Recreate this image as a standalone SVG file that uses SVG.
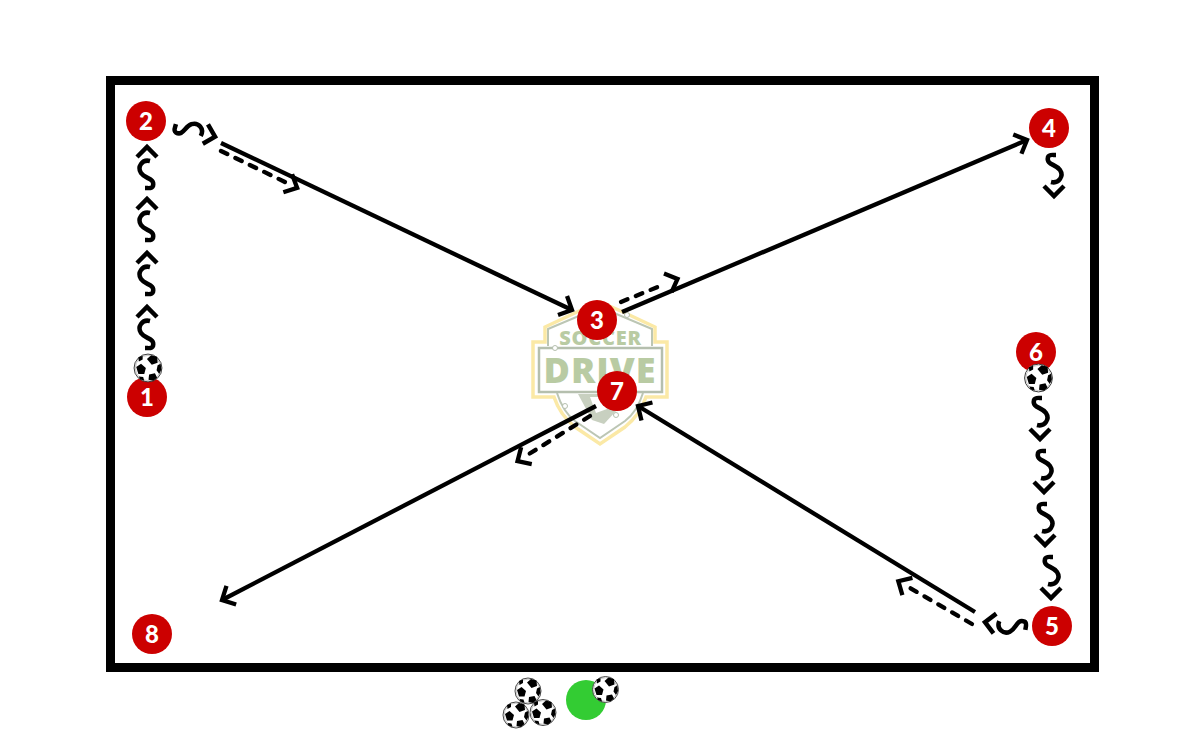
<svg xmlns="http://www.w3.org/2000/svg" width="1200" height="750" viewBox="0 0 1200 750">
<style>
.l{fill:none;stroke:#000;stroke-width:4.300}
.d{fill:none;stroke:#000;stroke-width:4.300;stroke-dasharray:7 9;stroke-linecap:round}
.dr{fill:none;stroke:#000;stroke-width:4.500}
.n{fill:#cc0000}
.t{fill:#fff;font-family:"Lato","Liberation Sans",sans-serif;font-weight:900;font-size:24px;text-anchor:middle}
.lg{fill:#b9cba3;font-family:"Open Sans","Liberation Sans",sans-serif;font-weight:800;text-anchor:middle}
.c{fill:#fff;stroke:#b5bfae;stroke-width:1}
</style>
<defs>
<marker id="h" markerUnits="userSpaceOnUse" markerWidth="32" markerHeight="32" refX="16" refY="16" orient="auto" overflow="visible"><path d="M5.500,5.500L16,16L5.500,26.500" fill="none" stroke="#000" stroke-width="4.300"/></marker>
<marker id="hd" markerUnits="userSpaceOnUse" markerWidth="40" markerHeight="32" refX="2" refY="16" orient="auto" overflow="visible"><path d="M5,6L15.500,16L5,26" fill="none" stroke="#000" stroke-width="4.300"/></marker>
<g id="sq"><path class="dr" d="M-10,11L0,1L10,11"/><path class="dr" d="M3,15C-5,13 -10,21 -6,27C-2,33 8,32 6,40C5,43 2,42 -2,42"/></g>
<g id="ball">
<circle r="13" fill="#fff" stroke="#333" stroke-width="0.900"/>
<circle r="11.800" fill="none" stroke="#999" stroke-width="0.500"/>
<path d="M-1,-8.500L3,-12L8.500,-10.500L9,-5L3.500,-3Z M-11,-1L-6.500,-4L-2,0L-3.500,5.500L-9,5.500Z M1,6L6.500,5L8.500,9L5,12L0.500,11Z M9,-2.500L11.800,-4L12.500,1.500L10.500,5.500L8,2Z M-9,-10L-5,-11.500L-5,-8L-8.500,-6Z M-8.500,8L-4.500,8.500L-3.500,12L-7.500,10.500Z" fill="#000"/>
</g>
</defs>
<rect width="1200" height="750" fill="#fff"/>
<g id="logo">
<path d="M545,342V327L577,312L600,302L623,312L655,327V342H667V397H646Q640,415 625,427L600,444L575,427Q560,415 554,397H533V342Z" fill="#fff" stroke="#fbe9a6" stroke-width="3.500"/>
<path d="M548,346V329L600,307L652,329V346M557,393Q563,412 575,421L600,438L625,421Q637,412 643,393" fill="none" stroke="#bcc6b4" stroke-width="2"/>
<rect x="539" y="348" width="123" height="44" fill="#fff" stroke="#b5bfae" stroke-width="2.500"/>
<path d="M578,394L612,394L617,410L604,424L592,420L585,407Z" fill="#c8d0c0"/>
<path d="M590,397L605,397L607,409L596,413Z" fill="#fff"/>
<text class="lg" x="600.500" y="345" font-size="20" letter-spacing="0.800">SOCCER</text>
<text class="lg" x="600" y="383" font-size="36" letter-spacing="1">DRIVE</text>
<circle class="c" cx="555" cy="348" r="2.500"/><circle class="c" cx="627" cy="315" r="2.500"/><circle class="c" cx="565" cy="406" r="2.500"/><circle class="c" cx="616" cy="415" r="2.500"/>
</g>
<rect id="field" x="110.500" y="80.500" width="984" height="587" fill="none" stroke="#000" stroke-width="9"/>
<g id="connectors">
<path class="l" marker-end="url(#h)" d="M221,143L572,310"/>
<path class="l" marker-end="url(#h)" d="M622,312L1027,140"/>
<path class="l" marker-end="url(#h)" d="M596,406L222,600"/>
<path class="l" marker-end="url(#h)" d="M975,612L638,406"/>
<path class="d" marker-end="url(#hd)" d="M221,151L285,182"/>
<path class="d" marker-end="url(#hd)" d="M621,302L665,284"/>
<path class="d" marker-end="url(#hd)" d="M590,416L529,454"/>
<path class="d" marker-end="url(#hd)" d="M972,624L910,588"/>
<use href="#sq" transform="translate(147,146)"/>
<use href="#sq" transform="translate(147,198)"/>
<use href="#sq" transform="translate(147,252)"/>
<use href="#sq" transform="translate(147,306)"/>
<use href="#sq" transform="translate(1040,440) rotate(180)"/>
<use href="#sq" transform="translate(1044,493) rotate(180)"/>
<use href="#sq" transform="translate(1045,546) rotate(180)"/>
<use href="#sq" transform="translate(1051,599) rotate(180)"/>
<use href="#sq" transform="translate(1054,197) rotate(180)"/>
<use href="#sq" transform="translate(216,137) rotate(105)"/>
<use href="#sq" transform="translate(984,622) rotate(-82)"/>
</g>
<g id="node1"><circle class="n" cx="147" cy="397" r="20"/><text class="t" x="147" y="405.500">1</text></g>
<g id="node2"><circle class="n" cx="146" cy="121" r="20"/><text class="t" x="146" y="129.500">2</text></g>
<g id="node3"><circle class="n" cx="597" cy="320" r="20"/><text class="t" x="597" y="328.500">3</text></g>
<g id="node4"><circle class="n" cx="1049" cy="128" r="20"/><text class="t" x="1049" y="136.500">4</text></g>
<g id="node5"><circle class="n" cx="1052" cy="626" r="20"/><text class="t" x="1052" y="634.500">5</text></g>
<g id="node6"><circle class="n" cx="1036" cy="352" r="20"/><text class="t" x="1036" y="360.500">6</text></g>
<g id="node7"><circle class="n" cx="617" cy="391" r="20"/><text class="t" x="617" y="399.500">7</text></g>
<g id="node8"><circle class="n" cx="152" cy="634" r="20"/><text class="t" x="152" y="642.500">8</text></g>
<g id="cone"><circle cx="586" cy="700" r="20" fill="#33cc33"/></g>
<g id="balls">
<use href="#ball" transform="translate(148,368) scale(1.070)"/>
<use href="#ball" transform="translate(1038.500,378) scale(1.070)"/>
<use href="#ball" transform="translate(528,691)"/>
<use href="#ball" transform="translate(516,715)"/>
<use href="#ball" transform="translate(543,712.500)"/>
<use href="#ball" transform="translate(605.500,689.500)"/>
</g>
</svg>
